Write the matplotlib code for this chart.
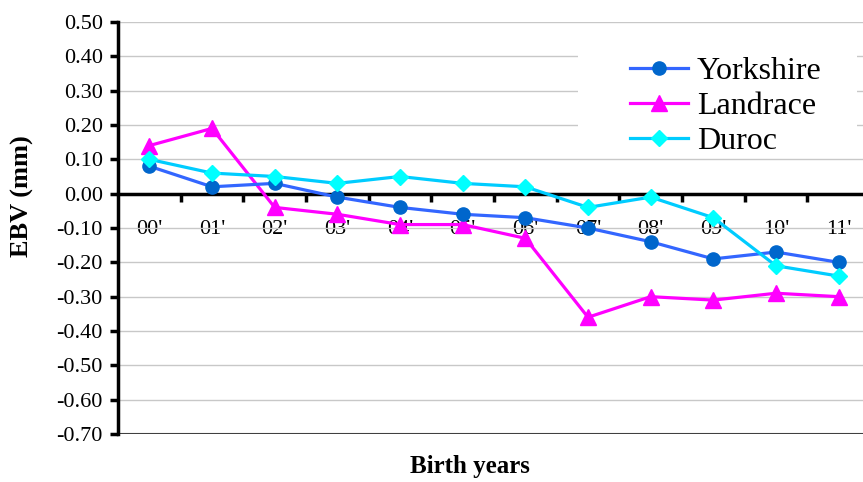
import matplotlib.pyplot as plt
from matplotlib.patches import Rectangle
from matplotlib.ticker import FixedLocator, NullFormatter

plt.rcParams['font.family'] = ['Liberation Serif', 'DejaVu Serif']

years = ["00'", "01'", "02'", "03'", "04'", "05'", "06'", "07'", "08'", "09'", "10'", "11'"]
yorkshire = [0.08, 0.02, 0.03, -0.01, -0.04, -0.06, -0.07, -0.10, -0.14, -0.19, -0.17, -0.20]
landrace = [0.14, 0.19, -0.04, -0.06, -0.09, -0.09, -0.13, -0.36, -0.30, -0.31, -0.29, -0.30]
duroc = [0.10, 0.06, 0.05, 0.03, 0.05, 0.03, 0.02, -0.04, -0.01, -0.07, -0.21, -0.24]
yticks = [0.5, 0.4, 0.3, 0.2, 0.1, 0.0, -0.1, -0.2, -0.3, -0.4, -0.5, -0.6, -0.7]

fig = plt.figure(figsize=(8.63, 4.82), dpi=100)
ax = fig.add_axes([118 / 863, 48 / 482, 752 / 863, 412 / 482])

x = list(range(len(years)))
ax.plot(x, yorkshire, color='#3366FF', lw=2.3, marker='o', ms=9.5,
        mfc='#0066CC', mec='#0066CC', label='Yorkshire', zorder=4)
ax.plot(x, landrace, color='#FF00FF', lw=2.3, marker='^', ms=11,
        mfc='#FF00FF', mec='#FF00FF', label='Landrace', zorder=3)
ax.plot(x, duroc, color='#00CCFF', lw=2.3, marker='D', ms=8,
        mfc='#00FFFF', mec='#00FFFF', label='Duroc', zorder=5)

ax.set_xlim(-0.5, len(years) - 0.5)
ax.set_ylim(-0.7, 0.5)
ax.set_yticks(yticks)
ax.set_yticklabels([f'{v:.2f}' for v in yticks])
ax.yaxis.grid(True, color='#C8C8C8', lw=1)
ax.set_axisbelow(True)

# category boundaries get the tick marks, centres get the labels
ax.xaxis.set_major_locator(FixedLocator([i + 0.5 for i in range(len(years) - 1)]))
ax.xaxis.set_major_formatter(NullFormatter())
ax.xaxis.set_minor_locator(FixedLocator(x))
ax.set_xticklabels(years, minor=True)
ax.tick_params(axis='x', which='major', direction='out', length=6, width=2.5)
ax.tick_params(axis='x', which='minor', length=0, pad=19, labelsize=16)
ax.tick_params(axis='y', direction='out', length=6, width=2.5, pad=5, labelsize=16)

ax.spines['bottom'].set_position(('data', 0))
ax.spines['bottom'].set_linewidth(2.5)
ax.spines['left'].set_linewidth(2.5)
ax.spines['top'].set_visible(False)
ax.spines['right'].set_visible(False)
ax.axhline(-0.7, color='#404040', lw=1.5, zorder=1)

fig.text(22 / 863, 1 - 196 / 482, 'EBV (mm)', fontsize=19, fontweight='bold',
         rotation=90, ha='center', va='center')
fig.text(470 / 863, 1 - 466 / 482, 'Birth years', fontsize=18, fontweight='bold',
         ha='center', va='center')

# white block behind the legend hides the grid there
ax.add_patch(Rectangle((578 / 863, 1 - 150 / 482), 279 / 863, 105 / 482,
                       transform=fig.transFigure, facecolor='white',
                       edgecolor='none', zorder=0.8))
leg = ax.legend(loc='upper left', bbox_to_anchor=(630 / 863, 1 - 57 / 482),
                bbox_transform=fig.transFigure, fontsize=23, frameon=False,
                handlelength=1.8, handletextpad=0.3, labelspacing=0.17,
                borderpad=0, borderaxespad=0)

fig.savefig('out.png', dpi=100)
